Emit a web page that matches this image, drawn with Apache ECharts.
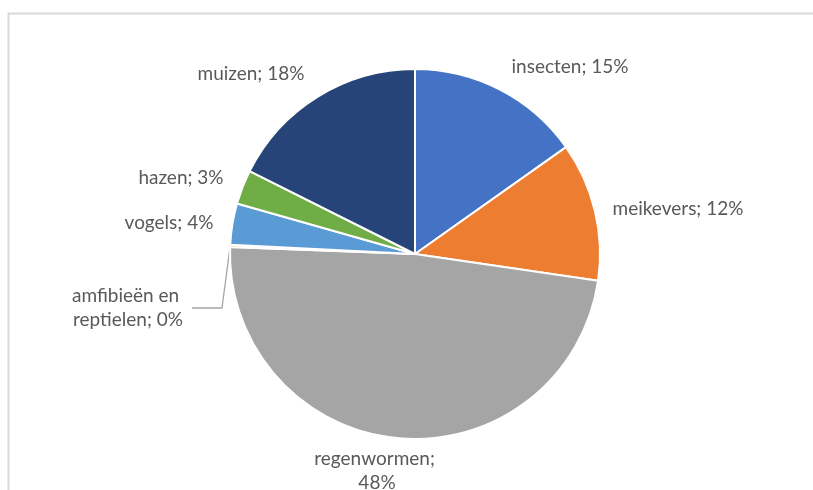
<!DOCTYPE html>
<html>
<head>
<meta charset="utf-8">
<script src="https://cdn.jsdelivr.net/npm/echarts@6/dist/echarts.min.js"></script>
<style>
  html, body { margin: 0; padding: 0; background: #ffffff; }
  #chart { width: 813px; height: 490px; }
</style>
</head>
<body>
<div id="chart"></div>
<script>
// Diet composition (share of total, %)
const categories = ['insecten', 'meikevers', 'regenwormen', 'amfibieën en reptielen', 'vogels', 'hazen', 'muizen'];
const shares = [15.2, 12.1, 48.3, 0.2, 3.6, 3.0, 17.6];
const colors = ['#4472C4', '#ED7D31', '#A5A5A5', '#FFC000', '#5B9BD5', '#70AD47', '#264478'];

// Label placement around the pie (centre of each text block)
const labelSpots = [
  [570, 67], [678, 209], [377, 471], [128, 308], [169, 223], [181, 178], [251, 74]
];
const wrapWidth = [null, null, 135, 128, null, null, null];

const chart = echarts.init(document.getElementById('chart'), null, { renderer: 'canvas' });

chart.setOption({
  backgroundColor: '#ffffff',
  animation: false,
  graphic: [{
    type: 'rect',
    left: 6, top: 11,
    shape: { width: 900, height: 600 },
    style: { fill: 'none', stroke: '#d9d9d9', lineWidth: 2 },
    silent: true
  }],
  series: [{
    type: 'pie',
    center: [415, 254],
    radius: [0, 185],
    startAngle: 90,
    clockwise: true,
    avoidLabelOverlap: false,
    percentPrecision: 0,
    itemStyle: { borderColor: '#ffffff', borderWidth: 2 },
    label: {
      show: true,
      position: 'outside',
      formatter: '{b}; {d}%',
      fontFamily: 'Lato',
      fontSize: 19,
      color: '#595959',
      lineHeight: 24,
      align: 'center'
    },
    labelLine: { show: false },
    labelLayout: function (p) {
      const s = labelSpots[p.dataIndex];
      return { x: s[0], y: s[1], align: 'center', verticalAlign: 'middle' };
    },
    data: categories.map(function (name, i) {
      const item = { name: name, value: shares[i], itemStyle: { color: colors[i] } };
      if (wrapWidth[i]) {
        item.label = { width: wrapWidth[i], overflow: 'break' };
      }
      if (i === 3) {
        item.labelLine = { show: true, lineStyle: { color: '#a6a6a6', width: 1.3 } };
      }
      return item;
    })
  }]
});
</script>
</body>
</html>
